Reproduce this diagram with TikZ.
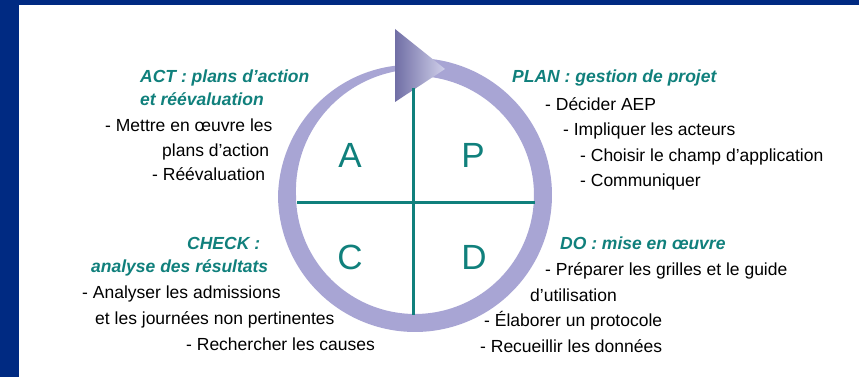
\documentclass[tikz,border=0pt]{standalone}
\usepackage{fontspec}
\setmainfont{Liberation Sans}
\usepackage{tikz}
\usetikzlibrary{shapes}
\usetikzlibrary{arrows}
\usetikzlibrary{positioning}
\usetikzlibrary{calc}
\definecolor{fondbleu}{RGB}{0,42,130}
\definecolor{sarcelle}{RGB}{16,128,124}
\definecolor{lavande}{RGB}{168,165,212}
\definecolor{lavandefonce}{RGB}{112,110,165}
\definecolor{lavandeclair}{RGB}{208,208,234}
\tikzstyle{titre}=[
        anchor=west,
        inner sep=0pt,
        text height=12.5pt,
        text depth=3.5pt,
        text=sarcelle,
        font=\fontsize{17.5}{20}\selectfont\bfseries\itshape
]
\tikzstyle{ligne}=[
        anchor=west,
        inner sep=0pt,
        text height=12.5pt,
        text depth=3.5pt,
        text=black,
        font=\fontsize{17.5}{20}\selectfont
]
\tikzstyle{lettre}=[inner sep=0pt,text=sarcelle,font=\fontsize{35}{40}\selectfont]
\tikzstyle{croix}=[sarcelle,line width=3pt]
\tikzstyle{anneau}=[fill=lavande]
\tikzstyle{pointe}=[left color=lavandefonce,right color=lavandeclair]

\begin{document}
\begin{tikzpicture}[x=1pt,y=1pt,declare function={ep(\t)=18-10*max(0,-180-\t)/65;}]
\useasboundingbox (0,0) rectangle (859,377);
%Fond
\fill[fondbleu] (0,0) rectangle (859,377);
\fill[white] (19,0) rectangle (859,372);
%Anneau
\fill[anneau] plot[domain=95:-265,samples=180] ({415+(128+ep(\x)/2)*cos(\x)},{182+(128+ep(\x)/2)*sin(\x)})
  -- plot[domain=-265:95,samples=180] ({415+(128-ep(\x)/2)*cos(\x)},{182+(128-ep(\x)/2)*sin(\x)}) -- cycle;
\shade[pointe] (395,348) -- (395,275) -- (445,308) -- cycle;
%Croix
\coordinate (haut) at (413,289);
\coordinate (bas) at (413,62);
\coordinate (gauche) at (297,174);
\coordinate (droite) at (535,174);
\draw[croix] (haut) -- (bas);
\draw[croix] (gauche) -- (droite);
\node[lettre] (A) at (350,222) {A};
\node[lettre] (P) at (473,222) {P};
\node[lettre] (C) at (350,120) {C};
\node[lettre] (D) at (474,120) {D};
%ACT
\node[titre] (act1) at (140,299) {ACT : plans d'action};
\node[titre] (act2) at (140,276) {et réévaluation};
\node[ligne] (act3) at (105,250) {- Mettre en œuvre les};
\node[ligne] (act4) at (162,225) {plans d'action};
\node[ligne] (act5) at (152,201) {- Réévaluation};
%PLAN
\node[titre] (plan1) at (512,299) {PLAN : gestion de projet};
\node[ligne] (plan2) at (545,271) {- Décider AEP};
\node[ligne] (plan3) at (563,246) {- Impliquer les acteurs};
\node[ligne] (plan4) at (580,220) {- Choisir le champ d'application};
\node[ligne] (plan5) at (580,195) {- Communiquer};
%CHECK
\node[titre] (check1) at (187,132) {CHECK :};
\node[titre] (check2) at (91,109) {analyse des résultats};
\node[ligne] (check3) at (82,83) {- Analyser les admissions};
\node[ligne] (check4) at (95,57) {et les journées non pertinentes};
\node[ligne] (check5) at (186,31) {- Rechercher les causes};
%DO
\node[titre] (do1) at (560,132) {DO : mise en œuvre};
\node[ligne] (do2) at (545,106) {- Préparer les grilles et le guide};
\node[ligne] (do3) at (530,80) {d'utilisation};
\node[ligne] (do4) at (484,55) {- Élaborer un protocole};
\node[ligne] (do5) at (480,29) {- Recueillir les données};
\end{tikzpicture}
\end{document}
